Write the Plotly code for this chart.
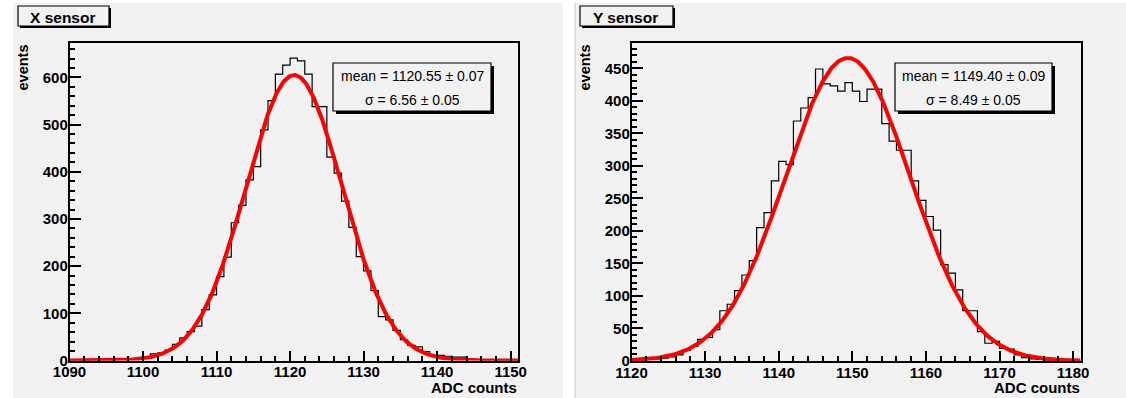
import numpy as np
import plotly.graph_objects as go

# ---------------- data ----------------
# X sensor: lower bin edges (1 ADC count wide) and counts per bin
x_bins = list(range(1090, 1151))
x_counts = [0, 0, 0, 1, 1, 1, 2, 3, 4, 5,
            8, 14, 16, 22, 34, 48, 61, 73, 108, 139,
            178, 219, 292, 329, 383, 411, 489, 551, 607, 626,
            641, 635, 607, 538, 538, 431, 397, 338, 282, 220,
            190, 148, 93, 86, 64, 44, 32, 29, 19, 11,
            11, 9, 7, 7, 3, 2, 1, 1, 0, 0,
            0]
x_fit_mean, x_fit_mean_err = 1120.55, 0.07
x_fit_sigma, x_fit_sigma_err = 6.56, 0.05
x_fit_amp = 605

# Y sensor
y_bins = list(range(1120, 1181))
y_counts = [1, 1, 2, 3, 4, 6, 9, 16, 22, 33,
            36, 48, 77, 87, 108, 132, 154, 205, 228, 277,
            307, 302, 369, 389, 405, 449, 426, 423, 415, 428,
            415, 399, 418, 418, 365, 338, 324, 324, 277, 247,
            222, 201, 148, 135, 109, 77, 77, 45, 27, 30,
            19, 18, 9, 5, 3, 2, 1, 1, 0, 0,
            0]
y_fit_mean, y_fit_mean_err = 1149.40, 0.09
y_fit_sigma, y_fit_sigma_err = 8.49, 0.05
y_fit_amp = 466

# ---------------- layout helpers ----------------
W, H = 1126, 398
PAD = "#f2f2f2"
FONT = "Liberation Sans, Arial, Helvetica, sans-serif"


def px(x):
    return x / W


def py(y):
    return 1 - y / H


fig = go.Figure()


def add_panel(idx, bins, counts, mean, mean_err, sigma, sigma_err, amp,
              x0, x1, ytop, ybot, yrange, ydtick, yminor, title,
              pad_x0, pad_x1, title_box, stats_box):
    xa = "x" if idx == 1 else f"x{idx}"
    ya = "y" if idx == 1 else f"y{idx}"
    lo = bins[0]
    hi = bins[-1] + 1

    # histogram outline as steps
    edges = list(bins) + [hi]
    vals = list(counts) + [counts[-1]]
    fig.add_trace(go.Scatter(x=edges, y=vals, mode="lines", line_shape="hv",
                             line=dict(color="black", width=1.2),
                             xaxis=xa, yaxis=ya, showlegend=False,
                             hoverinfo="skip"))
    # gaussian fit
    xf = np.linspace(lo, hi, 500)
    yf = amp * np.exp(-0.5 * ((xf - mean) / sigma) ** 2)
    fig.add_trace(go.Scatter(x=xf, y=yf, mode="lines",
                             line=dict(color="#ff0000", width=4),
                             xaxis=xa, yaxis=ya, showlegend=False,
                             hoverinfo="skip"))

    axis_common = dict(showline=True, linecolor="black", linewidth=1.5,
                       mirror=True, ticks="inside", tickcolor="black",
                       tickwidth=1.5, showgrid=False, zeroline=False,
                       automargin=False,
                       tickfont=dict(family=FONT, size=15, color="black",
                                     weight="bold"))
    xkey = "xaxis" if idx == 1 else f"xaxis{idx}"
    ykey = "yaxis" if idx == 1 else f"yaxis{idx}"
    fig.update_layout(**{
        xkey: dict(domain=[px(x0), px(x1)], range=[lo, hi], anchor=ya,
                   dtick=10, tick0=lo, ticklen=10, ticklabelstandoff=-3,
                   minor=dict(dtick=2, ticklen=5, ticks="inside",
                              tickcolor="black", tickwidth=1.5),
                   **axis_common),
        ykey: dict(domain=[py(ybot), py(ytop)], range=yrange, anchor=xa,
                   dtick=ydtick, tick0=0, ticklen=12, ticklabelstandoff=-3,
                   minor=dict(dtick=yminor, ticklen=6, ticks="inside",
                              tickcolor="black", tickwidth=1.5),
                   **axis_common),
    })

    # pad background
    fig.add_shape(type="rect", xref="paper", yref="paper",
                  x0=px(pad_x0), x1=px(pad_x1), y0=py(H), y1=py(3),
                  fillcolor=PAD, line=dict(width=0), layer="below")

    # title box with small shadow
    tx0, tx1, ty0, ty1 = title_box
    fig.add_shape(type="rect", xref="paper", yref="paper",
                  x0=px(tx0 + 2), x1=px(tx1 + 2), y0=py(ty1 + 2), y1=py(ty0 + 2),
                  fillcolor="black", line=dict(width=0))
    fig.add_shape(type="rect", xref="paper", yref="paper",
                  x0=px(tx0), x1=px(tx1), y0=py(ty1), y1=py(ty0),
                  fillcolor=PAD, line=dict(color="black", width=1.2))
    fig.add_annotation(x=px((tx0 + tx1) / 2 - 1), y=py((ty0 + ty1) / 2 + 1),
                       xref="paper", yref="paper", text=title,
                       showarrow=False, xanchor="center", yanchor="middle",
                       font=dict(family=FONT, size=15.5, color="black",
                                 weight="bold"))

    # stats box with shadow
    sx0, sx1, sy0, sy1 = stats_box
    fig.add_shape(type="rect", xref="paper", yref="paper",
                  x0=px(sx0 + 3), x1=px(sx1 + 3), y0=py(sy1 + 3), y1=py(sy0 + 3),
                  fillcolor="black", line=dict(width=0))
    fig.add_shape(type="rect", xref="paper", yref="paper",
                  x0=px(sx0), x1=px(sx1), y0=py(sy1), y1=py(sy0),
                  fillcolor=PAD, line=dict(color="black", width=1.2))
    cx = px((sx0 + sx1) / 2)
    fig.add_annotation(x=cx, y=py(sy0 + 13), xref="paper", yref="paper",
                       text=f"mean = {mean:.2f} \u00b1 {mean_err:.2f}",
                       showarrow=False, xanchor="center", yanchor="middle",
                       font=dict(family=FONT, size=14, color="black"))
    fig.add_annotation(x=cx, y=py(sy0 + 37), xref="paper", yref="paper",
                       text=f"\u03c3 = {sigma:.2f} \u00b1 {sigma_err:.2f}",
                       showarrow=False, xanchor="center", yanchor="middle",
                       font=dict(family=FONT, size=14, color="black"))

    # axis titles (aligned to the axis ends)
    fig.add_annotation(x=px(x0 - 47), y=py(ytop), xref="paper", yref="paper",
                       text="events", textangle=-90, showarrow=False,
                       xanchor="center", yanchor="top",
                       font=dict(family=FONT, size=14.5, color="black",
                                 weight="bold"))
    fig.add_annotation(x=px(x1 + 1), y=py(387), xref="paper", yref="paper",
                       text="ADC counts", showarrow=False,
                       xanchor="right", yanchor="middle",
                       font=dict(family=FONT, size=15, color="black",
                                 weight="bold"))


add_panel(1, x_bins, x_counts, x_fit_mean, x_fit_mean_err, x_fit_sigma,
          x_fit_sigma_err, x_fit_amp,
          x0=69.5, x1=518, ytop=43, ybot=360.5, yrange=[0, 673],
          ydtick=100, yminor=20, title="X sensor",
          pad_x0=13, pad_x1=563, title_box=(18, 109, 6, 26),
          stats_box=(333, 491, 63, 111))

add_panel(2, y_bins, y_counts, y_fit_mean, y_fit_mean_err, y_fit_sigma,
          y_fit_sigma_err, y_fit_amp,
          x0=631.5, x1=1080.5, ytop=43, ybot=360.8, yrange=[0, 489],
          ydtick=50, yminor=10, title="Y sensor",
          pad_x0=575, pad_x1=1126, title_box=(580, 673, 6, 26),
          stats_box=(895, 1052, 63, 111))

# thin separator line at the left edge of the second pad
fig.add_shape(type="line", xref="paper", yref="paper",
              x0=px(575), x1=px(575), y0=0, y1=py(3),
              line=dict(color="#c8c8c8", width=1))

fig.update_layout(template="none", width=W, height=H,
                  margin=dict(l=0, r=0, t=0, b=0, autoexpand=False),
                  paper_bgcolor="white", plot_bgcolor=PAD,
                  showlegend=False)

fig.write_html("out.html")
